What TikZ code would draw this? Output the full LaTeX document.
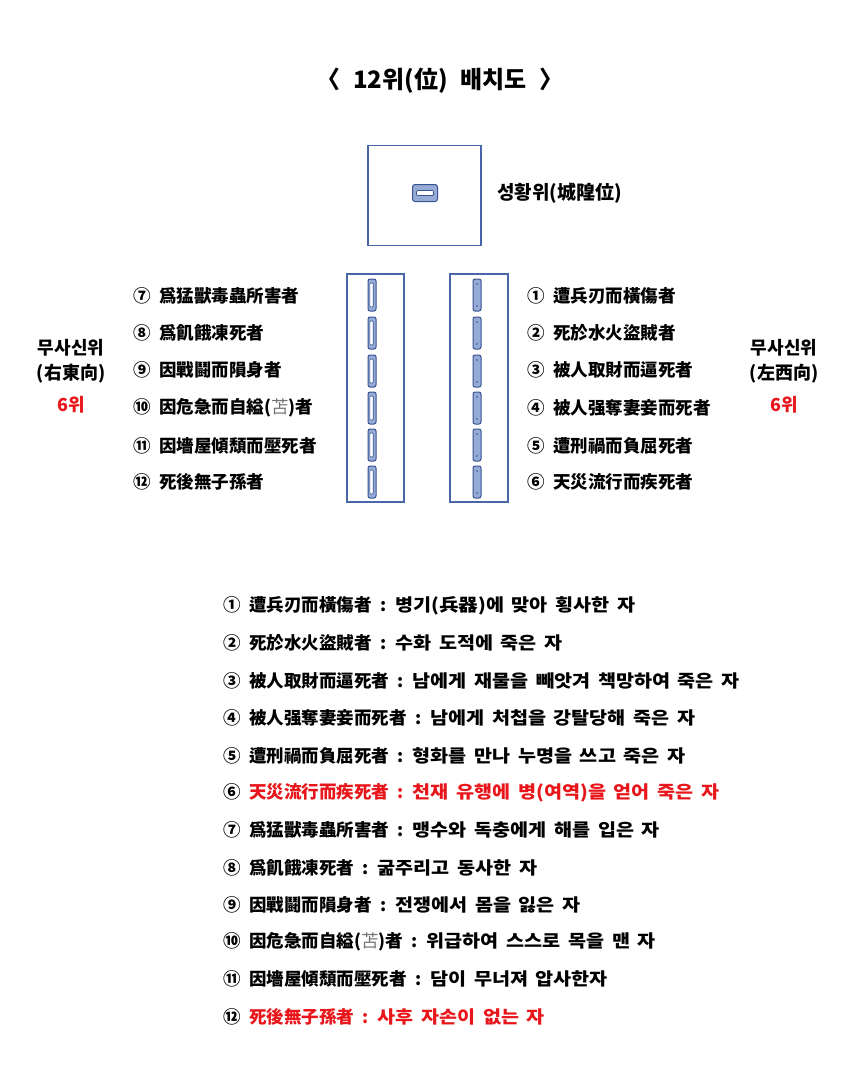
\documentclass[tikz,border=0pt]{standalone}
\usepackage{fontspec}
\setmainfont{Noto Sans CJK KR}
\newfontfamily\korfont{Noto Sans CJK KR}[FakeStretch=1.12, WordSpace=1.7]
\definecolor{boxc}{RGB}{72,102,168}
\definecolor{symc}{RGB}{55,82,145}
\definecolor{symf}{RGB}{150,172,214}
\definecolor{redc}{RGB}{232,22,27}
\newcommand\circnum[1]{#1\hspace{8.5pt}}
\newcommand\lightch[1]{{\mdseries\color{black!55}#1}}
\newcommand\colonsep{\hspace{0.5em}:\hspace{0.5em}}
\newcommand\kor[1]{{\korfont\bfseries #1}}
\begin{document}
\begin{tikzpicture}[x=1pt,y=-1pt,
  txt/.style={font=\fontsize{17.5}{20}\selectfont\bfseries, anchor=west, inner sep=0},
  lbl/.style={font=\fontsize{18}{20}\selectfont\bfseries, inner sep=0, align=center},
  redtxt/.style={text=redc},
  frame/.style={draw=boxc, line width=1.6pt},
  lsym/.style={draw=symc, fill=symf, rounded corners=2pt, minimum width=8pt, minimum height=32pt, inner sep=0, line width=1pt,
    path picture={\draw[symc, fill=white, line width=0.6pt, rounded corners=1pt]
      ([xshift=-2.2pt,yshift=-4pt]path picture bounding box.north) rectangle ([xshift=1.2pt,yshift=4pt]path picture bounding box.south);}},
  rsym/.style={draw=symc, fill=symf, rounded corners=2pt, minimum width=8pt, minimum height=32pt, inner sep=0, line width=1pt,
    path picture={\fill[symc] ([yshift=-5pt]path picture bounding box.north) circle (0.9pt);
      \fill[symc] ([yshift=5pt]path picture bounding box.south) circle (0.9pt);}},
  tsym/.style={draw=symc, fill=symf, rounded corners=2.5pt, minimum width=25pt, minimum height=17pt, inner sep=0, line width=1pt,
    path picture={\draw[symc, fill=white, line width=0.7pt, rounded corners=1pt]
      ([xshift=4pt,yshift=2.5pt]path picture bounding box.west) rectangle ([xshift=-4pt,yshift=-2.5pt]path picture bounding box.east);}}
]
\useasboundingbox (0,0) rectangle (857,1080);
\fill[white] (0,0) rectangle (857,1080);

% title
\node[font=\fontsize{24}{28}\selectfont\bfseries, inner sep=0] (title) at (440,81) {〈\hspace{13pt}12위(位)\hspace{13pt}배치도\hspace{13pt}〉};

% top box
\node[frame, minimum width=113pt, minimum height=100pt, inner sep=0] (tbox) at (424.5,195.5) {};
\node[tsym] (tsymbol) at (425,193) {};
\node[font=\fontsize{19}{22}\selectfont\bfseries, anchor=west, inner sep=0] (tlabel) at (497,193) {성황위(城隍位)};

% columns
\node[frame, minimum width=57pt, minimum height=228pt, inner sep=0] (lcol) at (375.5,388) {};
\node[frame, minimum width=58pt, minimum height=228pt, inner sep=0] (rcol) at (479,388) {};

\node[lsym] (ls1) at (372,295) {};
\node[lsym] (ls2) at (372,333) {};
\node[lsym] (ls3) at (372,371) {};
\node[lsym] (ls4) at (372,408) {};
\node[lsym] (ls5) at (372,445) {};
\node[lsym] (ls6) at (372,482) {};

\node[rsym] (rs1) at (477,295) {};
\node[rsym] (rs2) at (477,333) {};
\node[rsym] (rs3) at (477,371) {};
\node[rsym] (rs4) at (477,408) {};
\node[rsym] (rs5) at (477,445) {};
\node[rsym] (rs6) at (477,482) {};

% left list
\node[txt] (l7) at (133,296) {\circnum{⑦}爲猛獸毒蟲所害者};
\node[txt] (l8) at (133,333) {\circnum{⑧}爲飢餓凍死者};
\node[txt] (l9) at (133,370) {\circnum{⑨}因戰鬪而隕身者};
\node[txt] (l10) at (133,408) {\circnum{⑩}因危急而自縊(\lightch{苫})者};
\node[txt] (l11) at (133,446) {\circnum{⑪}因墻屋傾頹而壓死者};
\node[txt] (l12) at (133,482) {\circnum{⑫}死後無子孫者};

% right list
\node[txt] (r1) at (527,296) {\circnum{①}遭兵刃而橫傷者};
\node[txt] (r2) at (527,333) {\circnum{②}死於水火盜賊者};
\node[txt] (r3) at (527,370) {\circnum{③}被人取財而逼死者};
\node[txt] (r4) at (527,408) {\circnum{④}被人强奪妻妾而死者};
\node[txt] (r5) at (527,446) {\circnum{⑤}遭刑禍而負屈死者};
\node[txt] (r6) at (527,482) {\circnum{⑥}天災流行而疾死者};

% side labels
\node[lbl] (lw1) at (71,348) {무사신위};
\node[lbl] (lw2) at (71,374) {(右東向)};
\node[lbl, redtxt] (lw3) at (71,405) {6위};
\node[lbl] (rw1) at (784,348) {무사신위};
\node[lbl] (rw2) at (784,374) {(左西向)};
\node[lbl, redtxt] (rw3) at (784,405) {6위};

% bottom list
\node[txt] (b1) at (223,606) {\circnum{①}遭兵刃而橫傷者\colonsep\kor{병기(兵器)에 맞아 횡사한 자}};
\node[txt] (b2) at (223,643) {\circnum{②}死於水火盜賊者\colonsep\kor{수화 도적에 죽은 자}};
\node[txt] (b3) at (223,681) {\circnum{③}被人取財而逼死者\colonsep\kor{남에게 재물을 빼앗겨 책망하여 죽은 자}};
\node[txt] (b4) at (223,718) {\circnum{④}被人强奪妻妾而死者\colonsep\kor{남에게 처첩을 강탈당해 죽은 자}};
\node[txt] (b5) at (223,756) {\circnum{⑤}遭刑禍而負屈死者\colonsep\kor{형화를 만나 누명을 쓰고 죽은 자}};
\node[txt] (b6) at (223,793) {\circnum{⑥}\textcolor{redc}{天災流行而疾死者\colonsep\kor{천재 유행에 병(여역)을 얻어 죽은 자}}};
\node[txt] (b7) at (223,830) {\circnum{⑦}爲猛獸毒蟲所害者\colonsep\kor{맹수와 독충에게 해를 입은 자}};
\node[txt] (b8) at (223,868) {\circnum{⑧}爲飢餓凍死者\colonsep\kor{굶주리고 동사한 자}};
\node[txt] (b9) at (223,905) {\circnum{⑨}因戰鬪而隕身者\colonsep\kor{전쟁에서 몸을 잃은 자}};
\node[txt] (b10) at (223,942) {\circnum{⑩}因危急而自縊(\lightch{苫})者\colonsep\kor{위급하여 스스로 목을 맨 자}};
\node[txt] (b11) at (223,979) {\circnum{⑪}因墻屋傾頹而壓死者\colonsep\kor{담이 무너져 압사한자}};
\node[txt] (b12) at (223,1017) {\circnum{⑫}\textcolor{redc}{死後無子孫者\colonsep\kor{사후 자손이 없는 자}}};
\end{tikzpicture}
\end{document}
